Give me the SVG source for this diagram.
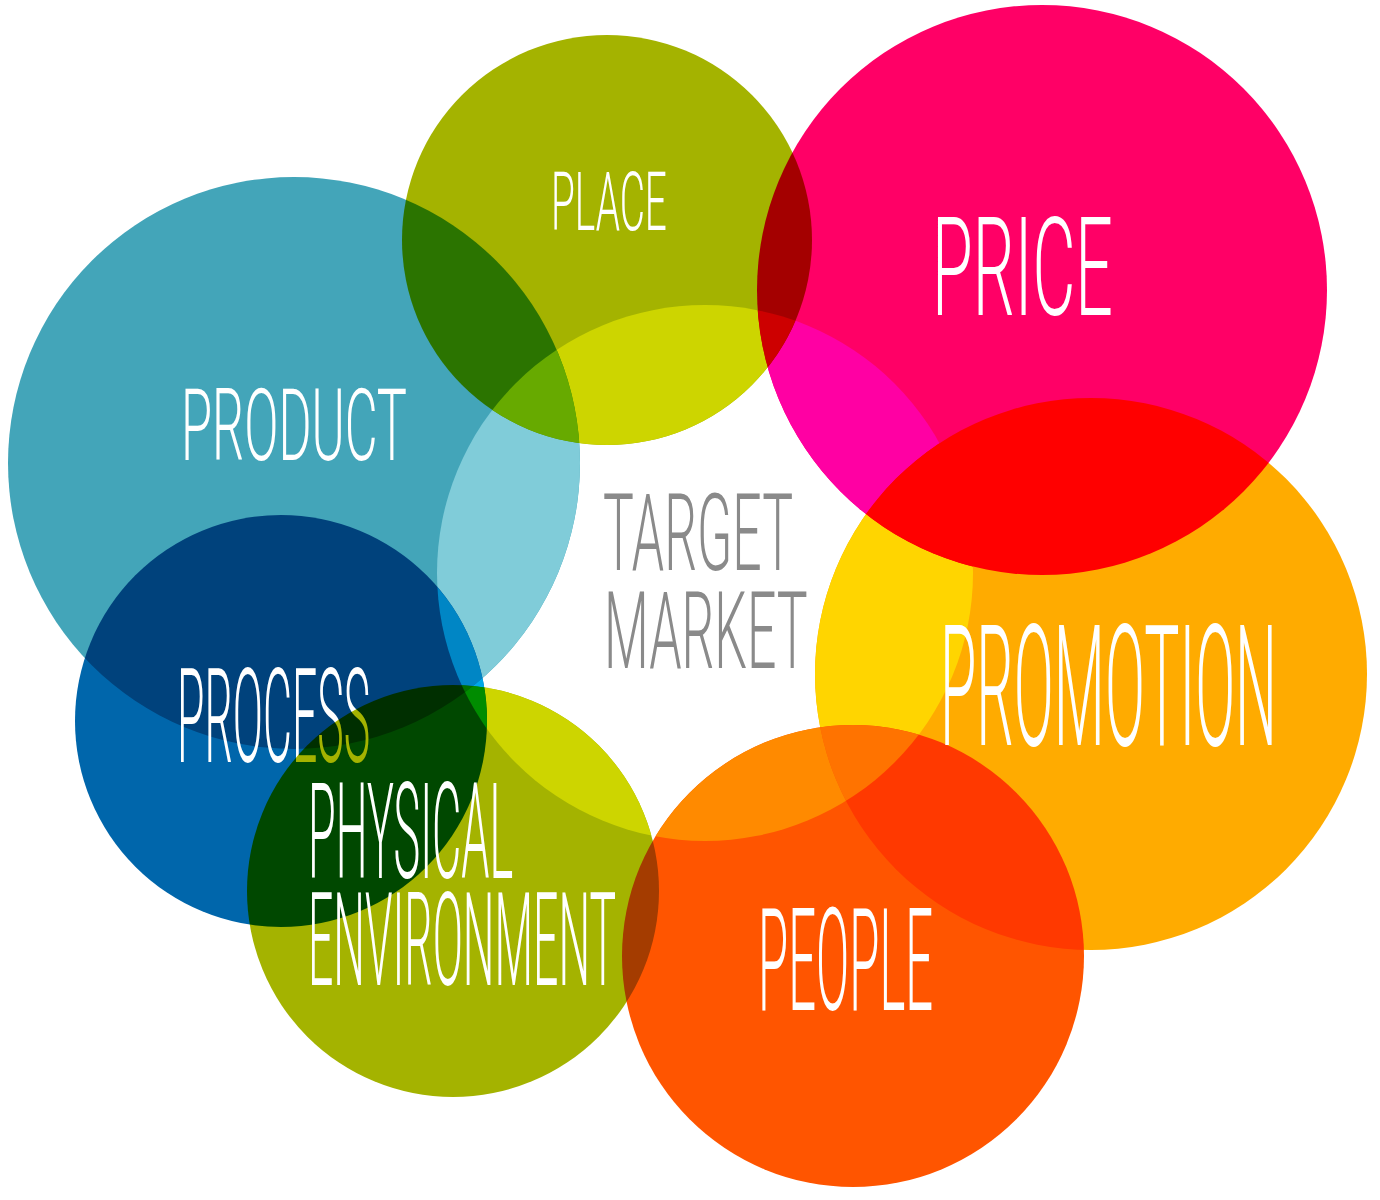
<svg xmlns="http://www.w3.org/2000/svg" width="1380" height="1200" viewBox="0 0 1380 1200">
<style>
.m { mix-blend-mode: multiply; }
.lbl { font-family: Roboto, "Liberation Sans", sans-serif; font-weight: 300; fill: #ffffff; }
.tm { fill: #8a8a8a; }
</style>
<defs>
<clipPath id="core"><circle cx="705" cy="573" r="268"/></clipPath>
</defs>
<rect x="0" y="0" width="1380" height="1200" fill="#ffffff"/>
<g id="connectors"></g>
<g id="product">
  <g class="m">
    <circle cx="294" cy="463" r="286" fill="#43a5b9"/>
    <circle cx="294" cy="463" r="286" fill="#80ccd9" clip-path="url(#core)"/>
  </g>
  <text class="lbl" transform="translate(181 460) scale(0.5 1)" font-size="101" textLength="452" lengthAdjust="spacingAndGlyphs">PRODUCT</text>
</g>
<g id="place">
  <g class="m">
    <circle cx="607" cy="240" r="205" fill="#a4b300"/>
    <circle cx="607" cy="240" r="205" fill="#cdd500" clip-path="url(#core)"/>
  </g>
  <text class="lbl" transform="translate(551 230) scale(0.46 1)" font-size="82" textLength="252" lengthAdjust="spacingAndGlyphs">PLACE</text>
</g>
<g id="price">
  <g class="m">
    <circle cx="1042" cy="290" r="285" fill="#ff0066"/>
    <circle cx="1042" cy="290" r="285" fill="#ff00a3" clip-path="url(#core)"/>
  </g>
  <text class="lbl" transform="translate(932 315) scale(0.48 1)" font-size="138" textLength="377" lengthAdjust="spacingAndGlyphs">PRICE</text>
</g>
<g id="people">
  <g class="m">
    <circle cx="853" cy="956" r="231" fill="#ff5500"/>
    <circle cx="853" cy="956" r="231" fill="#ff8a00" clip-path="url(#core)"/>
  </g>
  <text class="lbl" transform="translate(758 1010) scale(0.338 1)" font-size="143" textLength="518" lengthAdjust="spacingAndGlyphs">PEOPLE</text>
</g>
<g id="promotion">
  <g class="m">
    <circle cx="1091" cy="674" r="276" fill="#ffab00"/>
    <circle cx="1091" cy="674" r="276" fill="#ffd500" clip-path="url(#core)"/>
  </g>
  <text class="lbl" transform="translate(940 745) scale(0.345 1)" font-size="169" textLength="977" lengthAdjust="spacingAndGlyphs">PROMOTION</text>
</g>
<g id="process">
  <g class="m">
    <circle cx="281" cy="721" r="206" fill="#0066ab"/>
    <circle cx="281" cy="721" r="206" fill="#00a8e8" clip-path="url(#core)"/>
  </g>
  <text class="lbl" transform="translate(177 762) scale(0.337 1)" font-size="132" textLength="573" lengthAdjust="spacingAndGlyphs">PROCESS</text>
</g>
<g id="physical-environment">
  <g class="m">
    <circle cx="453" cy="891" r="206" fill="#a4b300"/>
    <circle cx="453" cy="891" r="206" fill="#cdd500" clip-path="url(#core)"/>
  </g>
  <text class="lbl" transform="translate(308 0) scale(0.333 1)"><tspan x="0" y="878" font-size="134" textLength="616" lengthAdjust="spacingAndGlyphs">PHYSICAL</tspan><tspan x="0" y="985" font-size="130" textLength="925" lengthAdjust="spacingAndGlyphs">ENVIRONMENT</tspan></text>
</g>
<g id="target-market">
  <text class="lbl tm" transform="translate(603 0) scale(0.475 1)"><tspan x="0" y="570" font-size="108" textLength="400" lengthAdjust="spacingAndGlyphs">TARGET</tspan><tspan x="2" y="668" font-size="107" textLength="429" lengthAdjust="spacingAndGlyphs">MARKET</tspan></text>
</g>
</svg>
